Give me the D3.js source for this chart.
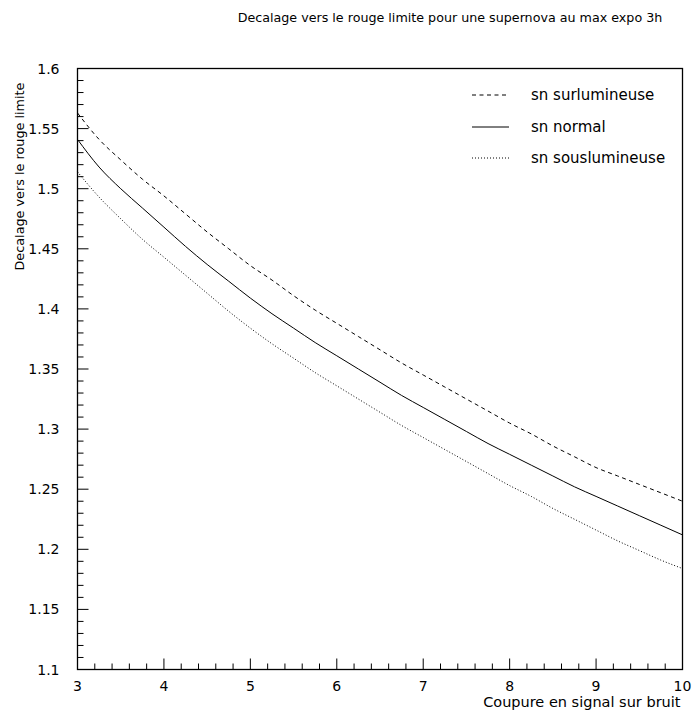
<!DOCTYPE html>
<html><head><meta charset="utf-8">
<script src="https://cdn.jsdelivr.net/npm/d3@7"></script>
<style>body{margin:0;background:#fff}svg{display:block}text{font-family:"DejaVu Sans",sans-serif;fill:#000}</style>
</head><body><svg id="c" width="692" height="715"></svg>
<script>
const xValues = [3.00,3.25,3.50,3.75,4.00,4.25,4.50,4.75,5.00,5.25,5.50,5.75,6.00,6.25,6.50,6.75,7.00,7.25,7.50,7.75,8.00,8.25,8.50,8.75,9.00,9.25,9.50,9.75,10.00];
const surlumineuse = [1.563,1.541,1.524,1.508,1.494,1.479,1.464,1.450,1.436,1.424,1.411,1.399,1.388,1.377,1.366,1.355,1.345,1.335,1.325,1.315,1.305,1.296,1.286,1.277,1.268,1.261,1.254,1.247,1.240];
const normal = [1.541,1.518,1.500,1.484,1.468,1.452,1.437,1.423,1.409,1.396,1.384,1.372,1.361,1.350,1.339,1.328,1.318,1.308,1.298,1.288,1.279,1.270,1.261,1.252,1.244,1.236,1.228,1.220,1.212];
const souslumineuse = [1.514,1.493,1.475,1.458,1.443,1.428,1.413,1.398,1.384,1.371,1.359,1.347,1.336,1.325,1.314,1.303,1.293,1.283,1.273,1.263,1.253,1.244,1.234,1.225,1.216,1.207,1.199,1.191,1.184];
const seriesNames = ["sn surlumineuse","sn normal","sn souslumineuse"];
const xTickLabels = ["3","4","5","6","7","8","9","10"];
const yTickLabels = ["1.1","1.15","1.2","1.25","1.3","1.35","1.4","1.45","1.5","1.55","1.6"];
const title = "Decalage vers le rouge limite pour une supernova au max expo 3h";
const xTitle = "Coupure en signal sur bruit";
const yTitle = "Decalage vers le rouge limite";

const svg = d3.select("#c");
const L=77.5, R=682.5, T=68.5, B=669.5;
const x = d3.scaleLinear().domain([3,10]).range([L,R]);
const y = d3.scaleLinear().domain([1.1,1.6]).range([B,T]);

// frame
svg.append("rect").attr("x",L).attr("y",T).attr("width",R-L).attr("height",B-T)
  .attr("fill","none").attr("stroke","#000").attr("stroke-width",1.3);

// x ticks (inward)
const xMinor = d3.range(0,36).map(i=>3+i*0.2);
svg.append("g").selectAll("line").data(xMinor).join("line")
  .attr("x1",d=>x(d)).attr("x2",d=>x(d)).attr("y1",B)
  .attr("y2",(d,i)=> i%5===0 ? B-11 : B-6).attr("stroke","#000").attr("stroke-width",1);
svg.append("g").selectAll("text").data(xTickLabels).join("text")
  .attr("x",d=>x(+d)).attr("y",B+21).attr("text-anchor","middle")
  .attr("font-size",14).text(d=>d);

// y ticks
const yMinor = d3.range(0,51).map(i=>1.1+i*0.01);
svg.append("g").selectAll("line").data(yMinor).join("line")
  .attr("y1",d=>y(d)).attr("y2",d=>y(d)).attr("x1",L)
  .attr("x2",(d,i)=> i%5===0 ? L+11 : L+6).attr("stroke","#000").attr("stroke-width",1);
svg.append("g").selectAll("text").data(yTickLabels).join("text")
  .attr("x",L-18).attr("y",d=>y(+d)+5).attr("text-anchor","end")
  .attr("font-size",14).text(d=>d);

// titles
svg.append("text").attr("x",450).attr("y",22).attr("text-anchor","middle").attr("font-size",12.7).text(title);
svg.append("text").attr("x",R-2).attr("y",707).attr("text-anchor","end").attr("font-size",14.5).text(xTitle);
svg.append("text").attr("transform",`translate(24,${T+14}) rotate(-90)`).attr("text-anchor","end").attr("font-size",12.8).text(yTitle);

// lines
const data = [surlumineuse, normal, souslumineuse];
const dashes = ["4,3.5", null, "1,2"];
const line = d3.line().x((d,i)=>x(xValues[i])).y(d=>y(d)).curve(d3.curveMonotoneX);
data.forEach((s,k)=>{
  svg.append("path").attr("d",line(s)).attr("fill","none").attr("stroke","#000")
    .attr("stroke-width",1).attr("stroke-dasharray",dashes[k]);
});

// legend
const legY = [95,127,158];
seriesNames.forEach((n,k)=>{
  svg.append("line").attr("x1",472).attr("x2",509).attr("y1",legY[k]).attr("y2",legY[k])
    .attr("stroke","#000").attr("stroke-width",1).attr("stroke-dasharray",dashes[k]);
  svg.append("text").attr("x",531).attr("y",legY[k]+5).attr("font-size",15).text(n);
});
</script></body></html>
